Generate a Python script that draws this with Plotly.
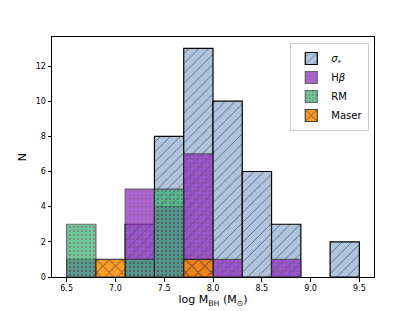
import plotly.graph_objects as go

bin_left = [6.5, 6.8, 7.1, 7.4, 7.7, 8.0, 8.3, 8.6, 8.9, 9.2]
bin_width = 0.3
sigma_counts = [0, 0, 3, 8, 13, 10, 6, 3, 0, 2]
hbeta_counts = [1, 0, 5, 4, 7, 1, 0, 1, 0, 0]
rm_counts = [3, 0, 1, 5, 0, 0, 0, 0, 0, 0]
maser_counts = [0, 1, 0, 0, 1, 0, 0, 0, 0, 0]

x_ticks = [6.5, 7.0, 7.5, 8.0, 8.5, 9.0, 9.5]
x_ticklabels = ["6.5", "7.0", "7.5", "8.0", "8.5", "9.0", "9.5"]
y_ticks = [0, 2, 4, 6, 8, 10, 12]

centers = [b + bin_width / 2 for b in bin_left]

series = [
    ("<i>σ</i><sub>*</sub>", sigma_counts, "#b0c4de", 1.0, "/", "black", "black", 7),
    ("H<i>β</i>", hbeta_counts, "#9932cc", 0.75, "+", "#2a2a2a", "#333333", 4),
    ("RM", rm_counts, "#3cb371", 0.72, ".", "#2a2040", "#333333", 4),
    ("Maser", maser_counts, "#ff8c00", 0.85, "x", "#1a1a1a", "#222222", 9),
]

fig = go.Figure()
for name, vals, col, op, shape, fg, edge, psize in series:
    xs = [c for c, v in zip(centers, vals) if v > 0]
    ys = [v for v in vals if v > 0]
    fig.add_trace(go.Bar(
        x=xs, y=ys, width=bin_width, name=name,
        opacity=op,
        marker=dict(color=col, line=dict(color=edge, width=1.2),
                    pattern=dict(shape=shape, fgcolor=fg, bgcolor=col,
                                 size=psize, solidity=0.25 if shape != "/" else 0.12,
                                 fillmode="overlay")),
    ))

fig.update_layout(
    width=415, height=311,
    barmode="overlay",
    paper_bgcolor="white", plot_bgcolor="white",
    margin=dict(l=52, r=41, t=37, b=34),
    font=dict(family="DejaVu Sans", size=8, color="black"),
    showlegend=True,
    legend=dict(x=0.74, y=0.975, xanchor="left", yanchor="top",
                bgcolor="rgba(255,255,255,0.8)", bordercolor="#cccccc", borderwidth=1,
                font=dict(size=10), tracegroupgap=1, itemwidth=30),
)
fig.update_xaxes(range=[6.35, 9.65], tickvals=x_ticks, ticktext=x_ticklabels,
                 ticks="outside", ticklen=3.5, tickcolor="black", showgrid=False,
                 showline=True, linecolor="black", linewidth=1, mirror=True, zeroline=False,
                 automargin=False,
                 title=dict(text="log M<sub>BH</sub> (M<sub>⊙</sub>)", font=dict(size=11), standoff=3))
fig.update_yaxes(range=[0, 13.65], tickvals=y_ticks,
                 ticks="outside", ticklen=3.5, tickcolor="black", showgrid=False,
                 showline=True, linecolor="black", linewidth=1, mirror=True, zeroline=False,
                 automargin=False,
                 title=dict(text="N", font=dict(size=11), standoff=6))

fig.write_html("out.html", config={"displayModeBar": False},
               post_script="document.body.style.margin='0';")
